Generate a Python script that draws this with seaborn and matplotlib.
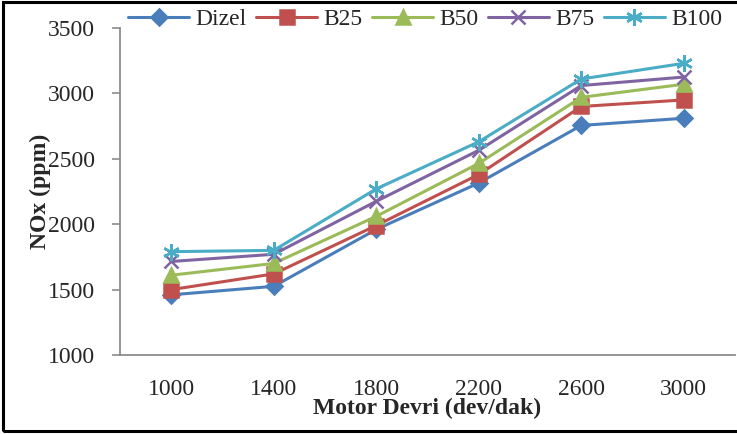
import matplotlib
matplotlib.use("Agg")
import matplotlib.pyplot as plt
import seaborn as sns
import pandas as pd
from matplotlib.patches import Rectangle
from matplotlib.lines import Line2D

categories = ["1000", "1400", "1800", "2200", "2600", "3000"]
series_names = ["Dizel", "B25", "B50", "B75", "B100"]
dizel = [1460, 1525, 1960, 2315, 2755, 2810]
b25 = [1500, 1620, 1990, 2380, 2900, 2950]
b50 = [1610, 1700, 2060, 2465, 2970, 3070]
b75 = [1715, 1770, 2175, 2565, 3060, 3125]
b100 = [1790, 1800, 2270, 2630, 3110, 3230]
yticks = [1000, 1500, 2000, 2500, 3000, 3500]

colors = ["#4A7EBB", "#C0504D", "#9BBB59", "#8064A2", "#4BACC6"]
markers = ["D", "s", "^", "x", (6, 2, 0)]
msizes = [8.5, 9.5, 10, 10, 12]

sns.set_theme(style="white")
plt.rcParams["font.family"] = ["Liberation Serif", "DejaVu Serif"]

fig = plt.figure(figsize=(7.37, 4.34), dpi=100)
ax = fig.add_axes([120 / 737, 1 - 355 / 434, 615 / 737, 327 / 434])

for name, vals, c, m, ms in zip(series_names, [dizel, b25, b50, b75, b100],
                                colors, markers, msizes):
    d = pd.DataFrame({"pos": range(len(categories)), "NOx": vals})
    sns.lineplot(data=d, x="pos", y="NOx", color=c, marker=m, markersize=ms,
                 markerfacecolor=c, markeredgecolor=c, markeredgewidth=1.8,
                 linewidth=2.2, ax=ax, label=name, legend=False)

ax.set_xlim(-0.5, 5.5)
ax.set_ylim(1000, 3500)
ax.set_yticks(yticks)
ax.set_yticklabels([str(t) for t in yticks])
ax.set_xticks(range(len(categories)))
ax.set_xticklabels(categories)

for s in ["top", "right"]:
    ax.spines[s].set_visible(False)
for s in ["left", "bottom"]:
    ax.spines[s].set_color("#8c8c8c")
    ax.spines[s].set_linewidth(1.3)

ax.tick_params(axis="y", which="both", left=True, length=6, width=1.2,
               color="#8c8c8c", labelsize=17, pad=12)
ax.tick_params(axis="x", bottom=False, labelsize=17, pad=11)
ax.grid(False)

ax.set_xlabel("Motor Devri (dev/dak)", fontsize=17, fontweight="bold", labelpad=-1)
ax.set_ylabel("NOx (ppm)", fontsize=17, fontweight="bold", labelpad=-2)

handles = []
for name, c, m, ms in zip(series_names, colors, markers, msizes):
    handles.append(Line2D([0], [0], color=c, marker=m, markersize=ms,
                          markerfacecolor=c, markeredgecolor=c,
                          markeredgewidth=1.8, linewidth=2.2, label=name))
leg = fig.legend(handles=handles, loc="center", ncol=5,
                 bbox_to_anchor=(425 / 737, 1 - 19 / 434), frameon=True,
                 fontsize=17, handlelength=2.6, handletextpad=0.25,
                 columnspacing=0.4, borderpad=0.1)
leg.get_frame().set_facecolor("white")
leg.get_frame().set_edgecolor("white")
leg.get_frame().set_alpha(1.0)

fig.patches.append(Rectangle((3 / 737, 3 / 434), 740 / 737, 429 / 434,
                             transform=fig.transFigure, fill=False,
                             edgecolor="black", linewidth=2.2))

fig.savefig("out.png", dpi=100)
